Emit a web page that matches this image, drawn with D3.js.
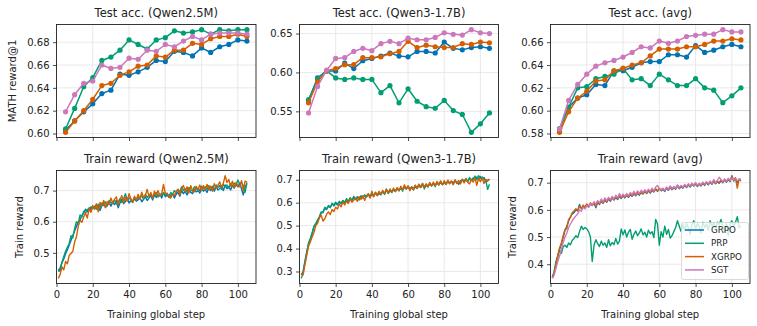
<!DOCTYPE html>
<html>
<head>
<meta charset="utf-8">
<script src="https://cdn.jsdelivr.net/npm/d3@7"></script>
<style>
  body { margin: 0; background: #fff; }
  svg { font-family: "DejaVu Sans", sans-serif; }
</style>
</head>
<body>
<svg id="chart" width="757" height="326"></svg>
<script>
'use strict';

// ---- data ----
const methods = ['GRPO', 'PRP', 'XGRPO', 'SGT'];
const colors = { GRPO: '#0173B2', PRP: '#029E73', XGRPO: '#D55E00', SGT: '#CC78BC' };

const evalSteps = [5, 10, 15, 20, 25, 30, 35, 40, 45, 50, 55, 60, 65, 70, 75, 80, 85, 90, 95, 100, 105];

// test acc, Qwen2.5M
const testQ25_GRPO = [0.603, 0.611, 0.619, 0.626, 0.635, 0.638, 0.652, 0.651, 0.654, 0.658, 0.664, 0.663, 0.672, 0.671, 0.668, 0.675, 0.671, 0.676, 0.678, 0.682, 0.681];
const testQ25_PRP = [0.604, 0.622, 0.641, 0.649, 0.664, 0.667, 0.673, 0.682, 0.678, 0.674, 0.682, 0.684, 0.690, 0.688, 0.689, 0.691, 0.687, 0.691, 0.690, 0.691, 0.691];
const testQ25_XGRPO = [0.601, 0.611, 0.620, 0.630, 0.642, 0.644, 0.651, 0.654, 0.659, 0.660, 0.668, 0.667, 0.673, 0.673, 0.679, 0.678, 0.683, 0.685, 0.685, 0.687, 0.685];
const testQ25_SGT = [0.619, 0.634, 0.644, 0.646, 0.660, 0.657, 0.658, 0.666, 0.665, 0.673, 0.672, 0.678, 0.676, 0.681, 0.685, 0.682, 0.687, 0.688, 0.688, 0.688, 0.687];

// test acc, Qwen3-1.7B
const testQ3_GRPO = [0.564, 0.593, 0.602, 0.602, 0.612, 0.605, 0.615, 0.618, 0.621, 0.625, 0.621, 0.620, 0.627, 0.627, 0.625, 0.639, 0.631, 0.629, 0.632, 0.633, 0.631];
const testQ3_PRP = [0.565, 0.592, 0.602, 0.593, 0.591, 0.593, 0.591, 0.591, 0.574, 0.583, 0.561, 0.579, 0.563, 0.556, 0.554, 0.564, 0.551, 0.546, 0.523, 0.534, 0.548];
const testQ3_XGRPO = [0.561, 0.588, 0.602, 0.605, 0.610, 0.610, 0.619, 0.619, 0.620, 0.624, 0.627, 0.640, 0.632, 0.635, 0.633, 0.632, 0.632, 0.637, 0.636, 0.639, 0.638];
const testQ3_SGT = [0.548, 0.582, 0.603, 0.618, 0.619, 0.627, 0.631, 0.628, 0.637, 0.640, 0.637, 0.644, 0.642, 0.642, 0.645, 0.651, 0.649, 0.648, 0.655, 0.651, 0.650];

// test acc, avg
const testAvg_GRPO = [0.584, 0.603, 0.611, 0.614, 0.623, 0.622, 0.635, 0.635, 0.638, 0.642, 0.643, 0.643, 0.649, 0.649, 0.647, 0.657, 0.651, 0.653, 0.656, 0.658, 0.656];
const testAvg_PRP = [0.584, 0.603, 0.620, 0.621, 0.628, 0.630, 0.632, 0.637, 0.627, 0.628, 0.622, 0.632, 0.627, 0.622, 0.622, 0.628, 0.620, 0.618, 0.607, 0.613, 0.620];
const testAvg_XGRPO = [0.581, 0.599, 0.611, 0.617, 0.626, 0.627, 0.635, 0.637, 0.640, 0.642, 0.648, 0.654, 0.654, 0.654, 0.656, 0.656, 0.658, 0.661, 0.661, 0.663, 0.662];
const testAvg_SGT = [0.584, 0.609, 0.623, 0.632, 0.639, 0.642, 0.644, 0.647, 0.651, 0.656, 0.655, 0.661, 0.659, 0.661, 0.665, 0.666, 0.667, 0.667, 0.671, 0.669, 0.669];

// train reward, steps 1..105
const trainSteps = d3.range(1, 106);

const trainQ25_GRPO = [
  .440,.452,.468,.480,.497,.510,.525,.540,.556,.570,
  .585,.598,.606,.620,.628,.640,.632,.645,.638,.650,
  .642,.655,.648,.636,.652,.660,.646,.658,.664,.650,
  .662,.655,.668,.645,.660,.672,.658,.665,.676,.660,
  .668,.662,.674,.666,.670,.678,.664,.672,.680,.668,
  .676,.684,.670,.688,.678,.682,.690,.676,.694,.680,
  .686,.678,.684,.690,.676,.688,.694,.682,.700,.690,
  .698,.686,.702,.694,.690,.704,.696,.700,.692,.706,
  .698,.704,.694,.708,.700,.710,.698,.712,.702,.706,
  .714,.700,.718,.706,.712,.702,.716,.708,.720,.712,
  .724,.706,.686,.712,.722];
const trainQ25_PRP = [
  .448,.440,.470,.488,.505,.518,.530,.555,.548,.578,
  .600,.596,.622,.615,.634,.628,.640,.636,.648,.642,
  .650,.640,.656,.646,.660,.652,.664,.650,.668,.662,
  .660,.670,.656,.664,.674,.662,.672,.690,.668,.676,
  .672,.666,.678,.670,.680,.676,.684,.672,.688,.678,
  .684,.690,.676,.682,.694,.680,.688,.684,.692,.686,
  .690,.682,.694,.688,.700,.692,.704,.696,.712,.700,
  .706,.696,.710,.702,.698,.712,.704,.708,.700,.714,
  .706,.712,.704,.716,.708,.714,.702,.718,.710,.716,
  .704,.720,.712,.718,.708,.722,.714,.724,.716,.734,
  .720,.726,.716,.694,.726];
const trainQ25_XGRPO = [
  .418,.430,.455,.445,.472,.465,.492,.498,.505,.535,
  .552,.585,.605,.598,.615,.628,.612,.642,.630,.652,
  .640,.658,.632,.662,.650,.668,.645,.664,.655,.676,
  .660,.672,.680,.655,.670,.684,.662,.678,.666,.690,
  .674,.662,.682,.670,.688,.672,.695,.678,.684,.704,
  .680,.694,.676,.698,.684,.700,.682,.690,.720,.690,
  .692,.680,.676,.688,.684,.698,.704,.686,.708,.716,
  .698,.712,.692,.716,.700,.696,.714,.702,.718,.700,
  .716,.702,.720,.704,.714,.698,.722,.708,.716,.728,
  .710,.724,.748,.726,.736,.714,.730,.708,.726,.714,
  .712,.732,.700,.730,.728];

const trainQ3_GRPO = [
  .285,.300,.345,.385,.420,.440,.465,.495,.505,.520,
  .535,.555,.560,.575,.570,.588,.580,.595,.586,.598,
  .590,.602,.596,.608,.600,.612,.604,.616,.610,.622,
  .614,.626,.618,.630,.622,.634,.626,.636,.628,.640,
  .632,.642,.634,.646,.638,.648,.640,.652,.644,.654,
  .648,.656,.650,.660,.652,.664,.656,.668,.660,.672,
  .660,.666,.656,.670,.662,.674,.666,.678,.668,.680,
  .672,.682,.674,.684,.676,.686,.678,.688,.680,.690,
  .682,.692,.684,.694,.686,.696,.688,.680,.694,.700,
  .690,.702,.694,.706,.698,.708,.700,.712,.704,.714,
  .700,.710,.690,.698,.702];
const trainQ3_PRP = [
  .270,.295,.340,.380,.425,.445,.470,.498,.510,.525,
  .540,.560,.556,.580,.574,.584,.578,.598,.590,.602,
  .594,.606,.598,.610,.602,.618,.606,.622,.612,.628,
  .616,.622,.612,.628,.620,.632,.624,.640,.626,.634,
  .628,.646,.630,.640,.634,.650,.636,.660,.640,.652,
  .644,.658,.648,.664,.654,.666,.650,.672,.660,.668,
  .658,.670,.662,.676,.664,.680,.670,.684,.660,.676,
  .668,.686,.676,.684,.670,.690,.680,.694,.678,.688,
  .680,.696,.686,.692,.680,.698,.684,.694,.688,.702,
  .694,.706,.690,.710,.696,.704,.716,.700,.718,.706,
  .712,.704,.696,.658,.680];
const trainQ3_XGRPO = [
  .290,.285,.330,.370,.410,.430,.450,.470,.500,.510,
  .535,.545,.520,.530,.550,.560,.548,.570,.562,.580,
  .572,.594,.582,.602,.590,.608,.596,.616,.602,.612,
  .620,.606,.626,.614,.630,.610,.632,.636,.620,.650,
  .626,.644,.632,.650,.636,.654,.640,.658,.644,.660,
  .646,.664,.650,.666,.652,.672,.656,.678,.660,.674,
  .652,.668,.656,.676,.662,.680,.666,.684,.668,.682,
  .670,.688,.672,.690,.674,.692,.676,.694,.678,.696,
  .680,.698,.682,.694,.678,.700,.684,.696,.682,.702,
  .686,.704,.688,.682,.702,.690,.708,.676,.706,.692,
  .708,.684,.702,.694,.704];

const trainAvg_GRPO = [
  .352,.370,.400,.430,.455,.475,.500,.525,.540,.560,
  .575,.585,.590,.600,.596,.620,.604,.612,.606,.618,
  .610,.622,.616,.626,.608,.628,.620,.632,.624,.636,
  .628,.640,.632,.644,.636,.646,.638,.650,.642,.652,
  .644,.654,.646,.656,.650,.660,.652,.662,.654,.664,
  .658,.668,.660,.670,.662,.672,.666,.676,.668,.678,
  .670,.676,.668,.680,.672,.684,.674,.682,.676,.688,
  .678,.686,.680,.690,.682,.692,.684,.694,.688,.696,
  .686,.694,.688,.698,.690,.700,.692,.702,.694,.706,
  .696,.704,.698,.708,.700,.710,.702,.712,.704,.726,
  .706,.716,.700,.712,.708];
const trainAvg_PRP = [
  .350,.372,.410,.430,.452,.440,.465,.470,.462,.478,
  .472,.488,.495,.505,.498,.520,.540,.528,.535,.530,
  .520,.500,.410,.470,.490,.476,.465,.485,.470,.478,
  .462,.490,.468,.480,.472,.495,.474,.485,.530,.508,
  .526,.500,.518,.528,.492,.510,.522,.505,.515,.530,
  .508,.518,.500,.525,.512,.520,.498,.565,.548,.470,
  .520,.500,.540,.510,.528,.496,.505,.520,.535,.560,
  .540,.520,.548,.525,.550,.535,.510,.545,.560,.530,
  .550,.540,.515,.555,.535,.548,.525,.560,.540,.552,
  .530,.555,.545,.565,.540,.520,.550,.505,.548,.560,
  .540,.555,.575,.535,.540];
const trainAvg_XGRPO = [
  .350,.368,.398,.432,.460,.478,.505,.528,.530,.565,
  .572,.590,.596,.604,.598,.614,.606,.618,.610,.622,
  .614,.626,.618,.628,.612,.630,.622,.634,.626,.638,
  .630,.642,.634,.646,.640,.648,.640,.652,.644,.656,
  .646,.656,.648,.658,.652,.662,.654,.664,.656,.666,
  .660,.670,.662,.672,.664,.674,.668,.678,.670,.680,
  .672,.678,.670,.682,.674,.686,.676,.684,.678,.690,
  .680,.688,.682,.692,.684,.694,.686,.696,.690,.698,
  .688,.696,.690,.700,.692,.702,.694,.704,.696,.708,
  .698,.706,.700,.710,.702,.712,.704,.714,.706,.722,
  .710,.718,.680,.714,.706];
const trainAvg_SGT = [
  .348,.360,.385,.410,.430,.455,.480,.500,.515,.535,
  .548,.560,.570,.578,.585,.600,.595,.610,.604,.616,
  .610,.624,.618,.630,.622,.634,.626,.640,.630,.644,
  .634,.646,.638,.650,.640,.654,.644,.660,.648,.658,
  .650,.660,.652,.664,.656,.668,.658,.670,.660,.672,
  .664,.674,.666,.676,.668,.680,.670,.684,.690,.676,
  .674,.680,.672,.684,.676,.688,.678,.686,.680,.692,
  .682,.690,.684,.694,.686,.696,.688,.698,.690,.700,
  .690,.698,.692,.702,.694,.704,.696,.706,.698,.712,
  .700,.708,.720,.712,.704,.714,.706,.716,.708,.718,
  .710,.714,.708,.712,.714];

const xTicks = [0, 20, 40, 60, 80, 100];
const yTicksTestQ25 = [0.60, 0.62, 0.64, 0.66, 0.68];
const yTicksTestQ3 = [0.55, 0.60, 0.65];
const yTicksTestAvg = [0.58, 0.60, 0.62, 0.64, 0.66];
const yTicksTrainQ25 = [0.5, 0.6, 0.7];
const yTicksTrainQ3 = [0.3, 0.4, 0.5, 0.6, 0.7];
const yTicksTrainAvg = [0.4, 0.5, 0.6, 0.7];

const panels = [
  { title: 'Test acc. (Qwen2.5M)', row: 0, col: 0, x: evalSteps, markers: true,
    series: { GRPO: testQ25_GRPO, PRP: testQ25_PRP, XGRPO: testQ25_XGRPO, SGT: testQ25_SGT },
    yTicks: yTicksTestQ25, fmt: '.2f', ylabel: 'MATH reward@1', ylabelOff: 41 },
  { title: 'Test acc. (Qwen3-1.7B)', row: 0, col: 1, x: evalSteps, markers: true,
    series: { GRPO: testQ3_GRPO, PRP: testQ3_PRP, XGRPO: testQ3_XGRPO, SGT: testQ3_SGT },
    yTicks: yTicksTestQ3, fmt: '.2f' },
  { title: 'Test acc. (avg)', row: 0, col: 2, x: evalSteps, markers: true,
    series: { GRPO: testAvg_GRPO, PRP: testAvg_PRP, XGRPO: testAvg_XGRPO, SGT: testAvg_SGT },
    yTicks: yTicksTestAvg, fmt: '.2f' },
  { title: 'Train reward (Qwen2.5M)', row: 1, col: 0, x: trainSteps,
    series: { GRPO: trainQ25_GRPO, PRP: trainQ25_PRP, XGRPO: trainQ25_XGRPO },
    yTicks: yTicksTrainQ25, fmt: '.1f', ylabel: 'Train reward', ylabelOff: 34 },
  { title: 'Train reward (Qwen3-1.7B)', row: 1, col: 1, x: trainSteps,
    series: { GRPO: trainQ3_GRPO, PRP: trainQ3_PRP, XGRPO: trainQ3_XGRPO },
    yTicks: yTicksTrainQ3, fmt: '.1f' },
  { title: 'Train reward (avg)', row: 1, col: 2, x: trainSteps, legend: true,
    series: { GRPO: trainAvg_GRPO, PRP: trainAvg_PRP, XGRPO: trainAvg_XGRPO, SGT: trainAvg_SGT },
    yTicks: yTicksTrainAvg, fmt: '.1f', ylabel: 'Train reward', ylabelOff: 34.5 }
];

// ---- layout ----
const svg = d3.select('#chart');
const colLeft = [56.5, 299.5, 550.5];
const colW = [199.5, 199, 199.5];
const rowTop = [24.5, 170.5];
const rowH = 113;

const drawPanel = function(p, i) {
  const left = colLeft[p.col], top = rowTop[p.row], w = colW[p.col], h = rowH;
  const allVals = Object.values(p.series).flat();
  const [mn, mx] = d3.extent(allVals);
  const pad = (mx - mn) * 0.05;

  const x = d3.scaleLinear().domain([0, 110]).range([left, left + w]);
  const y = d3.scaleLinear().domain([mn - pad, mx + pad]).range([top + h, top]);

  const g = svg.append('g');

  g.append('clipPath').attr('id', 'clip' + i)
    .append('rect').attr('x', left).attr('y', top).attr('width', w).attr('height', h);

  // grid
  g.append('g').selectAll('line.vg').data(xTicks).enter().append('line')
    .attr('x1', d => x(d)).attr('x2', d => x(d)).attr('y1', top).attr('y2', top + h)
    .attr('stroke', '#e3e3e3').attr('stroke-width', 0.8);
  g.append('g').selectAll('line.hg').data(p.yTicks).enter().append('line')
    .attr('x1', left).attr('x2', left + w).attr('y1', d => y(d)).attr('y2', d => y(d))
    .attr('stroke', '#e3e3e3').attr('stroke-width', 0.8);

  const plot = g.append('g').attr('clip-path', `url(#clip${i})`);
  const line = d3.line().x((d, j) => x(p.x[j])).y(d => y(d));

  methods.filter(m => p.series[m]).forEach(m => {
    plot.append('path')
      .datum(p.series[m])
      .attr('d', line)
      .attr('fill', 'none')
      .attr('stroke', colors[m])
      .attr('stroke-width', p.markers ? 1.5 : 1.4)
      .attr('stroke-linejoin', 'round');
    if (p.markers) {
      plot.selectAll(null).data(p.series[m]).enter().append('circle')
        .attr('cx', (d, j) => x(p.x[j])).attr('cy', d => y(d))
        .attr('r', 2.6).attr('fill', colors[m]);
    }
  });

  // axes
  const xAxis = d3.axisBottom(x).tickValues(xTicks).tickSize(3.5).tickPadding(3.5);
  if (p.row === 0) xAxis.tickFormat('');
  const gx = g.append('g').attr('transform', `translate(0,${top + h})`).call(xAxis);
  const gy = g.append('g').attr('transform', `translate(${left},0)`)
    .call(d3.axisLeft(y).tickValues(p.yTicks).tickFormat(d3.format(p.fmt)).tickSize(3.5).tickPadding(3.5));
  [gx, gy].forEach(a => {
    a.select('.domain').remove();
    a.selectAll('line').attr('stroke', '#222').attr('stroke-width', 0.8);
    a.selectAll('text').attr('fill', '#222').style('font-size', '10px')
      .style('font-family', '"DejaVu Sans", sans-serif');
  });

  g.append('rect').attr('x', left).attr('y', top).attr('width', w).attr('height', h)
    .attr('fill', 'none').attr('stroke', '#222').attr('stroke-width', 0.9);

  g.append('text').attr('x', left + w / 2).attr('y', top - 8)
    .attr('text-anchor', 'middle').attr('fill', '#222').style('font-size', '11.5px')
    .text(p.title);

  if (p.row === 1) {
    g.append('text').attr('x', left + w / 2).attr('y', top + h + 34)
      .attr('text-anchor', 'middle').attr('fill', '#222').style('font-size', '10px')
      .text('Training global step');
  }

  if (p.ylabel) {
    g.append('text')
      .attr('transform', `translate(${left - p.ylabelOff},${top + h / 2}) rotate(-90)`)
      .attr('text-anchor', 'middle').attr('fill', '#222').style('font-size', '10px')
      .text(p.ylabel);
  }

  if (p.legend) {
    const lx = 681.5, ly = 222.5;
    const lg = g.append('g');
    lg.append('rect').attr('x', lx).attr('y', ly).attr('width', 67).attr('height', 57)
      .attr('rx', 2).attr('fill', '#fff').attr('fill-opacity', 0.8)
      .attr('stroke', '#d0d0d0').attr('stroke-width', 0.8);
    methods.forEach((m, k) => {
      const yy = ly + 7.5 + k * 13.3;
      lg.append('line').attr('x1', lx + 3.5).attr('x2', lx + 22.5)
        .attr('y1', yy).attr('y2', yy).attr('stroke', colors[m]).attr('stroke-width', 1.5);
      lg.append('text').attr('x', lx + 29.5).attr('y', yy).attr('dy', '0.35em')
        .attr('fill', '#222').style('font-size', '8.7px').text(m);
    });
  }
};

panels.forEach(drawPanel);
</script>
</body>
</html>
